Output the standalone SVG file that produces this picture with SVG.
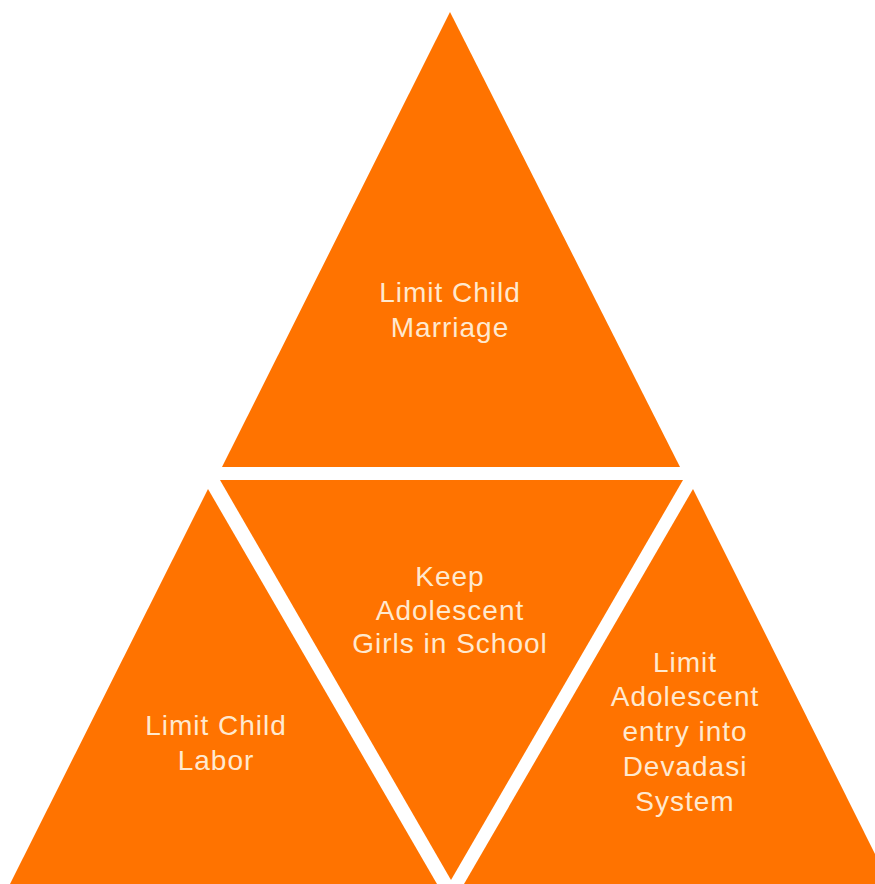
<svg xmlns="http://www.w3.org/2000/svg" width="875" height="884" viewBox="0 0 875 884">
<style>
.tri{fill:#FF7300}
.lbl{font-family:"Liberation Sans",Arial,sans-serif;font-size:28px;letter-spacing:1px;fill:#FFE9CF;text-anchor:middle}
</style>
<rect width="875" height="884" fill="#FFFFFF"/>
<g id="top">
<polygon class="tri" points="450,12 222,467 680,467"/>
<text class="lbl" x="450" y="302">Limit Child</text>
<text class="lbl" x="450" y="337">Marriage</text>
</g>
<g id="middle">
<polygon class="tri" points="220,480 683,480 451,880"/>
<text class="lbl" x="450" y="586">Keep</text>
<text class="lbl" x="450" y="620">Adolescent</text>
<text class="lbl" x="450" y="653">Girls in School</text>
</g>
<g id="left">
<polygon class="tri" points="208,489 10,884 437,884"/>
<text class="lbl" x="216" y="735">Limit Child</text>
<text class="lbl" x="216" y="770">Labor</text>
</g>
<g id="right">
<polygon class="tri" points="693,489 464,884 890,884"/>
<text class="lbl" x="685" y="672">Limit</text>
<text class="lbl" x="685" y="706">Adolescent</text>
<text class="lbl" x="685" y="741">entry into</text>
<text class="lbl" x="685" y="776">Devadasi</text>
<text class="lbl" x="685" y="811">System</text>
</g>
<g id="connectors"/>
</svg>
